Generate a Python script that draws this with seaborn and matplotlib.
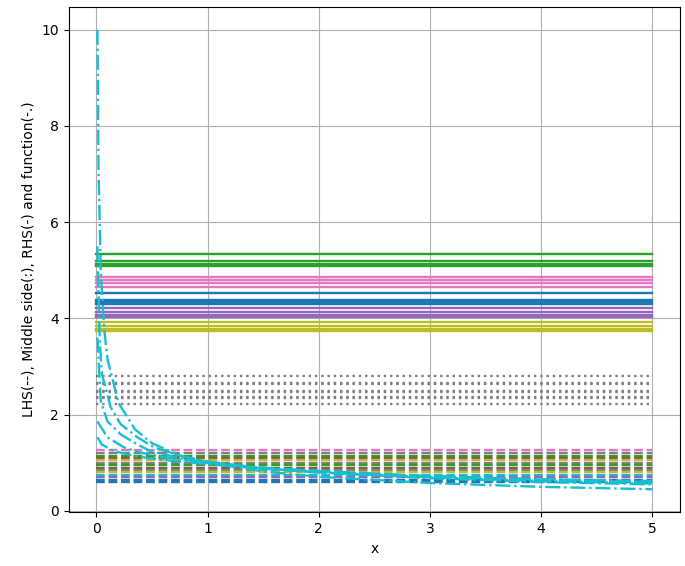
import numpy as np
import pandas as pd
import seaborn as sns
import matplotlib
matplotlib.use("Agg")
import matplotlib.pyplot as plt

# x range of the horizontal bounds
x_range = [0, 5]

# --- RHS (solid) levels and colours ---
rhs_vals = [5.34, 5.19, 5.14, 5.09,
            4.87, 4.80, 4.73, 4.66,
            4.52, 4.39, 4.35, 4.31,
            4.21, 4.14, 4.08, 4.02,
            3.93, 3.85, 3.79, 3.73]
rhs_colors = ['tab:green'] * 4 + ['tab:pink'] * 4 + ['tab:blue'] * 4 + \
             ['tab:purple'] * 4 + ['tab:olive'] * 4

# --- Middle side (dotted) levels ---
mid_vals = [2.81, 2.66, 2.63, 2.50, 2.47, 2.37, 2.34, 2.23]

# --- LHS (dashed) levels and colours ---
lhs_vals = [1.26, 1.20, 1.15, 1.10, 1.05, 1.00, 0.95, 0.90,
            0.85, 0.80, 0.75, 0.70, 0.64, 0.60]
lhs_colors = ['tab:pink', 'tab:gray', 'tab:green', 'tab:brown', 'tab:olive',
              'tab:gray', 'tab:green', 'tab:brown', 'tab:gray', 'tab:olive',
              'tab:cyan', 'tab:purple', 'tab:blue', 'tab:blue']

# --- function curves (dash-dot) ---
f1_x = [0.01, 0.02, 0.04, 0.07, 0.1, 0.2, 0.35, 0.5, 0.75, 1, 1.5, 2, 3, 4, 5]
f1_y = [10.0, 7.1, 5.0, 3.8, 3.16, 2.24, 1.69, 1.41, 1.15, 1.0, 0.82, 0.71, 0.58, 0.5, 0.45]
f2_x = [0.01, 0.03, 0.05, 0.13, 0.22, 0.37, 0.52, 0.75, 1, 1.5, 2, 3, 4, 5]
f2_y = [5.5, 3.6, 2.85, 2.15, 1.8, 1.53, 1.32, 1.15, 1.03, 0.88, 0.8, 0.68, 0.6, 0.55]
f3_x = [0.01, 0.04, 0.1, 0.22, 0.37, 0.49, 0.75, 1, 1.5, 2, 3, 4, 5]
f3_y = [3.6, 2.28, 1.86, 1.59, 1.38, 1.24, 1.1, 1.0, 0.88, 0.8, 0.7, 0.62, 0.57]
f4_x = [0.01, 0.1, 0.25, 0.4, 0.6, 1, 1.5, 2, 3, 4, 5]
f4_y = [1.86, 1.53, 1.32, 1.21, 1.12, 1.0, 0.9, 0.83, 0.72, 0.65, 0.6]
f5_x = [0.01, 0.05, 0.16, 0.37, 0.6, 1, 1.5, 2, 3, 4, 5]
f5_y = [1.53, 1.38, 1.24, 1.13, 1.06, 0.97, 0.88, 0.82, 0.72, 0.66, 0.62]
curves = [(f1_x, f1_y), (f2_x, f2_y), (f3_x, f3_y), (f4_x, f4_y), (f5_x, f5_y)]

fig = plt.figure(figsize=(6.85, 5.66), dpi=100)
ax = fig.add_axes([0.10, 0.095, 0.893, 0.893])

lw = 1.7

# LHS dashed
for v, c in zip(lhs_vals, lhs_colors):
    sns.lineplot(x=x_range, y=[v, v], color=c, linestyle='--', linewidth=lw, ax=ax)

# middle dotted
for v in mid_vals:
    sns.lineplot(x=x_range, y=[v, v], color='tab:gray', linestyle=':', linewidth=lw, ax=ax)

# RHS solid
for v, c in zip(rhs_vals, rhs_colors):
    sns.lineplot(x=x_range, y=[v, v], color=c, linestyle='-', linewidth=lw, ax=ax)

# function
for cx, cy in curves:
    sns.lineplot(x=cx, y=cy, color='tab:cyan', linestyle='-.', linewidth=lw, ax=ax)

ax.set_xlabel('x')
ax.set_ylabel('LHS(--), Middle side(:), RHS(-) and function(-.)')
ax.set_xticks([0, 1, 2, 3, 4, 5])
ax.set_yticks([0, 2, 4, 6, 8, 10])
ax.grid(True)

plt.savefig('out.png', dpi=100)
